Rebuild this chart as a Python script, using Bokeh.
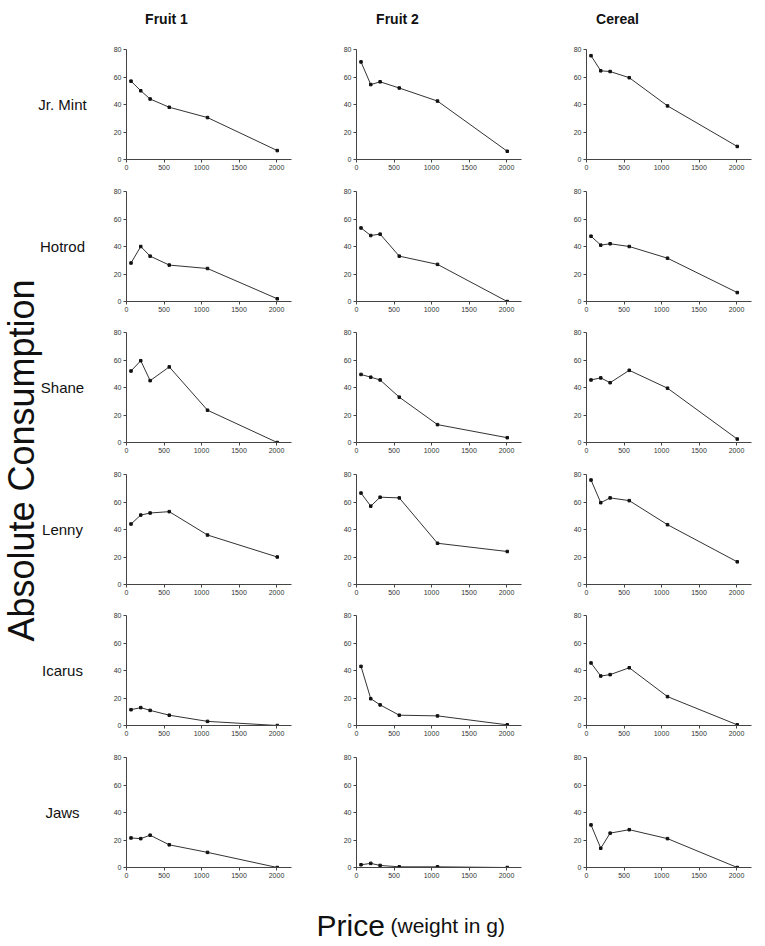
import math
from bokeh.plotting import figure
from bokeh.layouts import column, row
from bokeh.models import Range1d, FixedTicker
from bokeh.core.properties import value
from bokeh.embed import file_html
from bokeh.resources import INLINE

# ---------------- data ----------------
price = [60, 190, 315, 570, 1080, 2010]
subjects = ["Jr. Mint", "Hotrod", "Shane", "Lenny", "Icarus", "Jaws"]
foods = ["Fruit 1", "Fruit 2", "Cereal"]
x_ticks = [0, 500, 1000, 1500, 2000]
y_ticks = [0, 20, 40, 60, 80]

jr_mint_fruit1 = [57, 50, 44, 38, 30.5, 6.5]
jr_mint_fruit2 = [71, 54.5, 56.5, 52, 42.5, 6]
jr_mint_cereal = [75.5, 64.5, 64, 59.5, 39, 9.5]

hotrod_fruit1 = [28, 40, 33, 26.5, 24, 2]
hotrod_fruit2 = [53.5, 48, 49, 33, 27, 0]
hotrod_cereal = [47.5, 41, 42, 40, 31.5, 6.5]

shane_fruit1 = [52, 59.5, 45, 55, 23.5, 0]
shane_fruit2 = [49.5, 47.5, 45.5, 33, 13, 3.5]
shane_cereal = [45.5, 47, 43.5, 52.5, 39.5, 2.5]

lenny_fruit1 = [44, 50.5, 52, 53, 36, 20]
lenny_fruit2 = [66.5, 57, 63.5, 63, 30, 24]
lenny_cereal = [76, 59.5, 63, 61, 43.5, 16.5]

icarus_fruit1 = [11.5, 13, 11, 7.5, 3, 0]
icarus_fruit2 = [43, 19.5, 15, 7.5, 7, 0.5]
icarus_cereal = [45.5, 36, 37, 42, 21, 0.5]

jaws_fruit1 = [21.5, 21, 23.5, 16.5, 11, 0]
jaws_fruit2 = [2, 3, 1.5, 0.5, 0.5, 0]
jaws_cereal = [31, 14, 25, 27.5, 21, 0]

table = [
    [jr_mint_fruit1, jr_mint_fruit2, jr_mint_cereal],
    [hotrod_fruit1, hotrod_fruit2, hotrod_cereal],
    [shane_fruit1, shane_fruit2, shane_cereal],
    [lenny_fruit1, lenny_fruit2, lenny_cereal],
    [icarus_fruit1, icarus_fruit2, icarus_cereal],
    [jaws_fruit1, jaws_fruit2, jaws_cereal],
]

# ---------------- layout constants ----------------
FONT = "Liberation Sans"
LEFT_W = 98
COL_W = [230, 230, 205]
ROW_H = [142, 141, 142, 141, 142, 141]
HEAD_H = 41
FOOT_H = 52
FRAME_W = 165
FRAME_H = 110
BL = 28
BT = 8
TOTAL_W = LEFT_W + sum(COL_W)
GRID_H = sum(ROW_H)


def blank(w, h, xr, yr):
    p = figure(width=w, height=h, x_range=xr, y_range=yr,
               output_backend="svg", toolbar_location=None, tools="", title=None,
               x_axis_location=None, y_axis_location=None, min_border=0)
    p.outline_line_color = None
    p.xgrid.visible = False
    p.ygrid.visible = False
    return p


def panel(vals, w, h):
    p = figure(width=w, height=h, x_range=Range1d(0, 2200), y_range=Range1d(0, 80),
               output_backend="svg", toolbar_location=None, tools="", title=None,
               min_border_left=BL, min_border_right=w - BL - FRAME_W,
               min_border_top=BT, min_border_bottom=h - BT - FRAME_H)
    p.outline_line_color = None
    p.xgrid.visible = False
    p.ygrid.visible = False
    p.xaxis.ticker = FixedTicker(ticks=x_ticks)
    p.yaxis.ticker = FixedTicker(ticks=y_ticks)
    for ax in (p.xaxis, p.yaxis):
        ax.axis_line_color = "#444444"
        ax.axis_line_width = 1
        ax.major_tick_line_color = "#444444"
        ax.major_tick_in = 0
        ax.major_tick_out = 3
        ax.minor_tick_line_color = None
        ax.major_label_text_font = FONT
        ax.major_label_text_font_size = "7px"
        ax.major_label_text_color = "#333333"
        ax.major_label_standoff = 2
    p.line(price, vals, line_color="#333333", line_width=1)
    p.scatter(price, vals, marker="square", size=2.5, fill_color="#111111", line_color="#111111")
    return p


rows = []
for i, subj in enumerate(subjects):
    rows.append(row([panel(table[i][j], COL_W[j], ROW_H[i]) for j in range(3)], spacing=0))
grid = column(rows, spacing=0)

# left strip with row labels and y title
left = blank(LEFT_W, GRID_H, Range1d(0, LEFT_W), Range1d(GRID_H, 0))
row_mid = []
acc = 0
for h in ROW_H:
    row_mid.append(acc + BT + FRAME_H / 2)
    acc += h
left.text(x=[62] * len(subjects), y=row_mid, text=subjects, text_font=value(FONT),
          text_font_size="15px", text_align="center", text_baseline="middle", text_color="#111111")
left.text(x=[21], y=[419], text=["Absolute Consumption"], angle=math.pi / 2, text_font=value(FONT),
          text_font_size="36px", text_align="center", text_baseline="middle", text_color="#111111")

# header
head = blank(TOTAL_W, HEAD_H, Range1d(0, TOTAL_W), Range1d(HEAD_H, 0))
head.text(x=[166, 397, 617], y=[18, 18, 18], text=foods, text_font=value(FONT), text_font_size="14px",
          text_font_style="bold", text_align="center", text_baseline="middle", text_color="#111111")

# footer
foot = blank(TOTAL_W, FOOT_H, Range1d(0, TOTAL_W), Range1d(FOOT_H, 0))
foot.text(x=[316], y=[35], text=["Price"], text_font=value(FONT), text_font_size="30px",
          text_align="left", text_baseline="alphabetic", text_color="#111111")
foot.text(x=[390], y=[35], text=["(weight in g)"], text_font=value(FONT), text_font_size="21px",
          text_align="left", text_baseline="alphabetic", text_color="#111111")

layout = column([head, row([left, grid], spacing=0), foot], spacing=0)

open("out.html", "w").write(file_html(layout, INLINE))
